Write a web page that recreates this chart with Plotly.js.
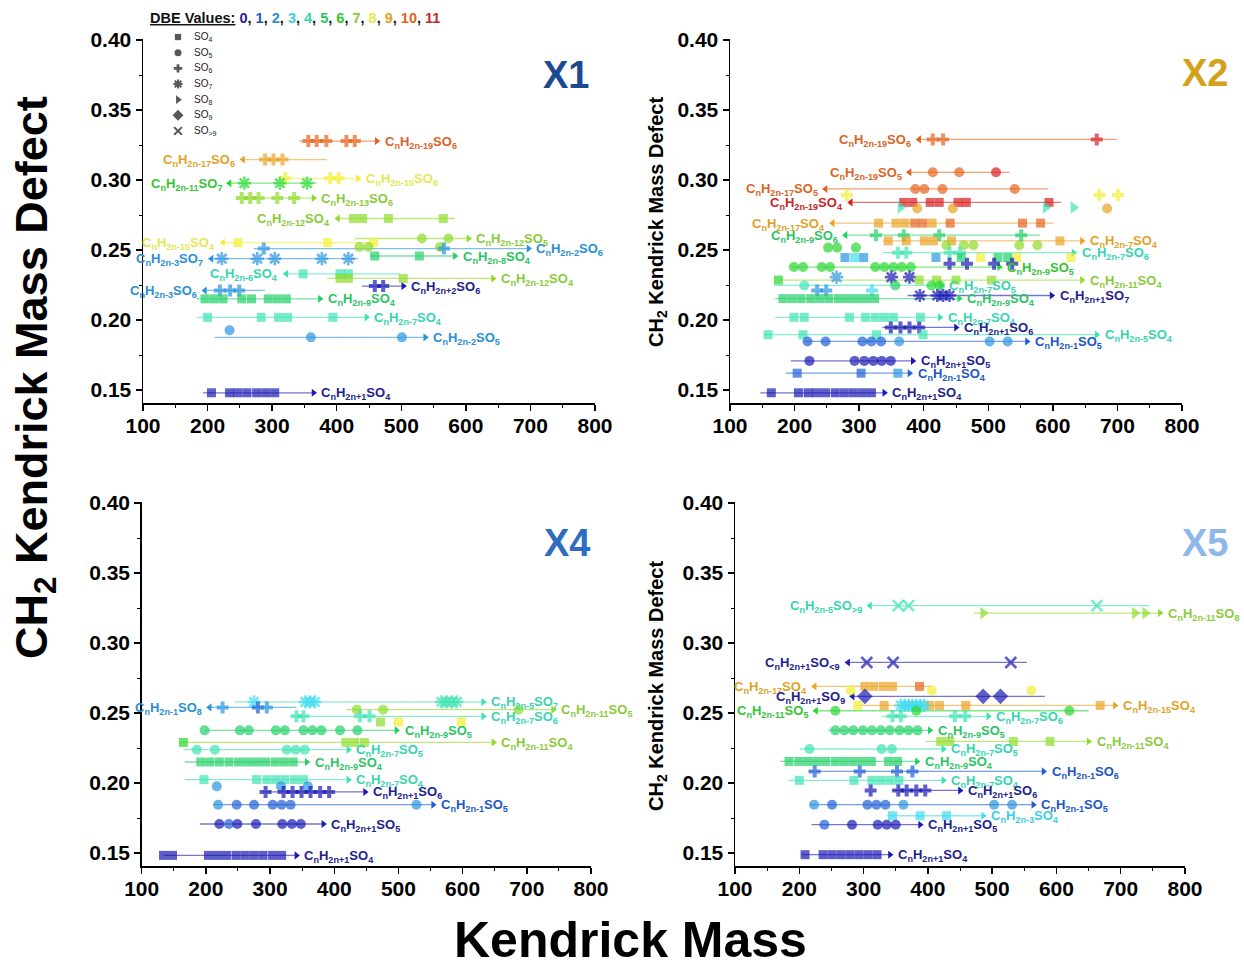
<!DOCTYPE html>
<html><head><meta charset="utf-8">
<script src="https://cdn.plot.ly/plotly-3.0.1.min.js"></script>
<style>body{margin:0;background:#fff}#chart{width:1244px;height:961px}</style>
</head><body><div id="chart"></div>
<script>
// ---------- palette / legend data ----------
const dbeValues = [0,1,2,3,4,5,6,7,8,9,10,11];
const dbeMarkerColors = ['#1a1ab4','#1f5fd8','#2a96e0','#3fdcf0','#3de2b4','#22d068','#28d830','#8edc2a','#f2f030','#eba224','#e6621e','#d81e1e'];
const dbeTextColors   = ['#22228c','#2057c4','#2a8fd6','#3ccfe4','#38d4b0','#2cc463','#35c435','#8acb3a','#e6e650','#e2a228','#dc6424','#c42828'];
const legendSymbolCodes = [4,5,6,7,8,9,10];
const legendSymbolLabels = ['SO<sub>4</sub>','SO<sub>5</sub>','SO<sub>6</sub>','SO<sub>7</sub>','SO<sub>8</sub>','SO<sub>9</sub>','SO<sub>&gt;9</sub>'];

// ---------- X1 ----------
const X1_h = ['2n-19','2n-17','2n-15','2n-11','2n-13','2n-12','2n-15','2n-12',null,'2n-2','2n-3','2n-8','2n-6','2n-12','2n-3','2n+2','2n-9','2n-7',null,'2n-2','2n+1'];
const X1_o = ['6','6','6','7','6','4','4','5',null,'6','7','4','4','4','6','6','4','4',null,'5','4'];
const X1_y = [0.3278,0.3146,0.3012,0.2977,0.2871,0.2725,0.2553,0.2582,0.2522,0.2510,0.2438,0.2457,0.2330,0.2297,0.2211,0.2242,0.2151,0.2019,0.1926,0.1876,0.1480];
const X1_from = [342,255,317,234,245,402,224,428,null,271,206,451,322,385,196,439,183,183,null,211,193];
const X1_to   = [462,385,433,369,364,583,457,604,null,697,433,583,498,642,289,503,374,446,null,537,364];
const X1_arrow = ['r','l','r','l','r','l','l','r',null,'r','l','r','l','r','l','r','r','r',null,'r','r'];
const X1_dbe = [10,9,8,6,7,7,8,7,7,2,2,5,4,7,2,0,5,4,2,2,0];
const X1_sym = [6,6,6,7,6,4,4,5,5,6,7,4,4,4,6,6,4,4,5,5,4];
const X1_mx = [[356,369,384,415,428],[289,302,316],[320,390,403],[257,312,354],[253,266,279,308,334],[426,440,480,565],[247,386,457],[532,573],[435,449,560],[287,566],[222,277,304,377,418],[459,528],[348,405,418],[405,418,503],[219,235,249],[459,472],[196,210,224,253,268,294,308,322],[200,283,310,324,394],[234],[360,501],[206,234,247,261,276,290,304]];
const X1_mdbe = [null,null,null,null,null,null,null,null,null,null,null,null,null,null,null,null,null,null,null,null,null];

// ---------- X2 ----------
const X2_h = ['2n-19','2n-19','2n-17',null,'2n-19',null,null,'2n-17','2n-9','2n-7',null,null,'2n-7',null,null,'2n-9',null,'2n-11','2n-7',null,'2n+1','2n-9','2n-7','2n+1','2n-5','2n-1','2n+1','2n-1','2n+1'];
const X2_o = ['6','5','5',null,'4',null,null,'4','6','4',null,null,'6',null,null,'5',null,'4','5',null,'7','4','4','6','4','5','5','4','4'];
const X2_y = [0.329,0.3055,0.2936,0.2893,0.284,0.2804,0.2797,0.2692,0.2606,0.2565,0.2517,0.2534,0.2481,0.2446,0.2401,0.2378,0.2306,0.2285,0.2247,0.221,0.2175,0.2153,0.2019,0.1947,0.1895,0.1847,0.1708,0.162,0.148];
const X2_from = [393,378,248,null,287,null,null,259,279,336,null,null,336,null,null,194,null,175,168,null,375,170,170,336,152,215,194,186,147];
const X2_to   = [699,533,593,null,613,null,null,601,580,645,null,null,632,null,null,517,null,645,427,null,598,455,425,450,668,560,383,378,339];
const X2_arrow = ['l','l','l',null,'l',null,null,'l','l','r',null,null,'r',null,null,'r',null,'r','r',null,'r','r','r','r','r','r','r','r','r'];
const X2_dbe = [10,10,10,8,11,4,9,9,5,9,6,7,4,2,0,6,2,7,4,2,0,5,4,0,4,1,0,1,0];
const X2_sym = [6,5,5,6,4,8,5,4,6,4,5,5,6,4,6,5,7,4,5,6,7,4,4,6,4,5,5,4,4];
const X2_mx = [[414,430,668],[414,455,512],[387,401,429,541],[281,672,701],[369,383,410,424,453,466,594],[364,589,632],[390,445,684],[330,357,371,386,399,413,441,553,581],[326,369,424,551],[345,373,401,415,443,611],[252,266,295],[435,462,477,548,576],[360,373,440,456],[278,293,307,419,458,515,530,488,544,628],[440,467,509,537],[199,213,242,255,325,339,353,366,380],[265,350,378],[175,393,420,450,505],[215,356,412,425],[235,249,320],[394,421,430,440],[182,196,210,225,239,253,268,282,296,310,324],[199,215,285,310,325,339,353,395],[349,364,378,393],[159,213,327,399],[220,248,305,319,334,362,502,530],[223,293,308,322,335,349],[204,303,360],[164,206,221,234,248,263,277,291,305,319]];
const X2_mdbe = [[10,10,11],[10,10,11],null,null,null,null,null,[9,9,9,10,10,9,10,10,10],null,null,null,null,null,[2,3,2,2,5,5,5,8,8,8],null,null,[2,0,0],[6,7,7,7,7],[4,5,6,6],[2,2,3],null,null,null,null,null,[1,1,1,1,1,2,2,2],null,[1,1,2],null];

// ---------- X4 ----------
const X4_h = ['2n-5','2n-1','2n-11','2n-7',null,'2n-9','2n-11','2n-7','2n-9','2n-7',null,'2n+1','2n-1','2n+1','2n+1'];
const X4_o = ['7','8','5','6',null,'5','4','5','4','4',null,'6','5','5','4'];
const X4_y = [0.2579,0.254,0.2524,0.2476,0.2436,0.2376,0.229,0.2238,0.215,0.2024,0.1976,0.1936,0.1845,0.1707,0.1483];
const X4_from = [245,206,419,334,null,197,162,165,167,167,null,287,212,191,134];
const X4_to   = [632,341,741,632,null,497,648,422,357,422,null,448,554,383,341];
const X4_arrow = ['r','l','r','r',null,'r','r','r','r','r',null,'r','r','r','r'];
const X4_dbe = [4,2,7,4,8,5,7,4,5,4,2,0,1,0,0];
const X4_sym = [7,6,5,6,4,5,4,5,4,4,5,6,5,5,4];
const X4_mx = [[275,355,362,370,567,575,583,591],[226,281,295],[435,476,687],[341,352,440,455],[472,500,598],[198,253,267,309,323,352,366,380,409,436],[165,418,432,447],[186,214,326,340,354],[192,206,221,236,251,265,279,293,308,322,336],[197,279,295,309,323,338,352],[217,317,359],[293,321,335,349,363,378,392],[219,248,275,304,318,332,528],[221,236,249,278,319,334,348],[134,148,204,218,232,247,261,275,289,304,318]];
const X4_mdbe = [[3,3,3,3,4,4,4,4],[2,1,2],null,null,[7,8,8],null,[6,7,7,7],null,null,null,null,null,[2,1,1,1,1,1,2],[0,1,0,0,0,0,0],null];

// ---------- X5 ----------
const X5_h = ['2n-5','2n-11','2n+1','2n-17',null,'2n+1','2n-15',null,'2n-11','2n-7','2n-9','2n-11','2n-7','2n-9','2n-1','2n-7','2n+1','2n-1','2n-3','2n+1','2n+1'];
const X5_o = ['&gt;9','8','&lt;9','4',null,'9','4',null,'5','6','5','4','5','4','6','4','6','5','4','5','4'];
const X5_y = [0.3267,0.3214,0.2861,0.269,0.2661,0.2619,0.2554,0.2554,0.2516,0.2476,0.2376,0.2297,0.2243,0.2154,0.2083,0.2019,0.1947,0.1845,0.1766,0.1702,0.1488];
const X5_from = [310,471,276,224,null,283,289,null,226,328,245,396,201,170,214,183,344,217,336,219,204];
const X5_to   = [744,761,554,406,null,582,691,null,650,494,403,650,424,383,580,424,450,564,486,388,341];
const X5_arrow = ['l','r','l','l',null,'l','r',null,'l','r','r','r','r','r','r','r','r','r','r','r','r'];
const X5_dbe = [4,7,0,9,8,0,9,3,6,4,5,7,4,5,1,4,0,1,3,0,0];
const X5_sym = [10,8,10,4,5,9,4,7,5,6,5,4,5,4,6,4,6,5,4,5,4];
const X5_mx = [[354,370,663],[486,722,738],[305,346,529],[302,316,331,345,387],[280,406,561],[302,486,513],[291,332,403,418,459,668],[358,364,370,376,382,388,394],[256,382,620],[345,358,442,458],[256,270,284,299,313,327,341,356,370,384],[420,434,533,590],[216,328,344],[184,199,213,227,241,256,270,284,298,312,339,353],[224,294,352,376],[200,285,313,327,341,355],[311,354,367,382,396],[223,251,306,320,334,362,503,531],[345,388,429],[239,282,322,336,350],[209,237,251,265,279,293,307,321]];
const X5_mdbe = [null,null,null,[9,9,9,9,10],null,null,[8,9,9,9,9,9],null,null,null,null,null,null,null,null,null,null,[2,1,1,1,1,2,2,2],null,[1,0,0,0,0],null];

// ---------- drawing ----------
const FONT = 'Liberation Sans, Arial, sans-serif';
const SYMBOLS = {4:'square',5:'circle',6:'cross',7:'asterisk-open',8:'triangle-right',9:'diamond',10:'x-thin-open'};
const SIZES = {4:9,5:10,6:10,7:11,8:11,9:12,10:11};
const OPEN = {7:true,10:true};

const traces = [];
const annotations = [];

function buildPanel(P, xn, yn) {
  const arX=[],arY=[],arS=[],arC=[];
  const mX=[],mY=[],mS=[],mC=[],mZ=[],mW=[];
  for (let i=0;i<P.y.length;i++) {
    const col = dbeMarkerColors[P.dbe[i]];
    if (P.from[i]!=null) {
      traces.push({type:'scatter',mode:'lines',x:[P.from[i],P.to[i]],y:[P.y[i],P.y[i]],xaxis:xn,yaxis:yn,
        line:{color:col,width:1.3},opacity:0.6,hoverinfo:'skip',cliponaxis:false});
      const right = P.arrow[i]==='r';
      arX.push(right?P.to[i]:P.from[i]); arY.push(P.y[i]);
      arS.push(right?'triangle-right':'triangle-left'); arC.push(col);
      if (P.h[i]) {
        annotations.push({xref:xn,yref:yn,x:right?P.to[i]:P.from[i],y:P.y[i],
          text:'C<sub>n</sub>H<sub>'+P.h[i]+'</sub>SO<sub>'+P.o[i]+'</sub>',
          showarrow:false,xanchor:right?'left':'right',yanchor:'middle',xshift:right?6:-6,yshift:-1,
          font:{family:FONT,size:13,weight:'bold',color:dbeTextColors[P.dbe[i]]}});
      }
    }
    P.mx[i].forEach((x,j)=>{
      const d = P.mdbe[i] ? P.mdbe[i][j] : P.dbe[i];
      mX.push(x); mY.push(P.y[i]); mS.push(SYMBOLS[P.sym[i]]);
      mC.push(dbeMarkerColors[d]); mZ.push(SIZES[P.sym[i]]); mW.push(OPEN[P.sym[i]]?2.6:0);
    });
  }
  traces.push({type:'scatter',mode:'markers',x:arX,y:arY,xaxis:xn,yaxis:yn,hoverinfo:'skip',cliponaxis:false,
    marker:{symbol:arS,color:arC,size:7,line:{width:0}}});
  traces.push({type:'scatter',mode:'markers',x:mX,y:mY,xaxis:xn,yaxis:yn,hoverinfo:'skip',cliponaxis:false,
    marker:{symbol:mS,color:mC,size:mZ,line:{width:mW,color:mC}}});
}

buildPanel({h:X1_h,o:X1_o,y:X1_y,from:X1_from,to:X1_to,arrow:X1_arrow,dbe:X1_dbe,sym:X1_sym,mx:X1_mx,mdbe:X1_mdbe},'x','y');
buildPanel({h:X2_h,o:X2_o,y:X2_y,from:X2_from,to:X2_to,arrow:X2_arrow,dbe:X2_dbe,sym:X2_sym,mx:X2_mx,mdbe:X2_mdbe},'x2','y2');
buildPanel({h:X4_h,o:X4_o,y:X4_y,from:X4_from,to:X4_to,arrow:X4_arrow,dbe:X4_dbe,sym:X4_sym,mx:X4_mx,mdbe:X4_mdbe},'x3','y3');
buildPanel({h:X5_h,o:X5_o,y:X5_y,from:X5_from,to:X5_to,arrow:X5_arrow,dbe:X5_dbe,sym:X5_sym,mx:X5_mx,mdbe:X5_mdbe},'x4','y4');

// symbol legend (helper axes x5/y5)
traces.push({type:'scatter',mode:'markers',x:legendSymbolCodes.map(()=>0.5),y:legendSymbolCodes.map((c,i)=>i),
  xaxis:'x5',yaxis:'y5',hoverinfo:'skip',cliponaxis:false,
  marker:{symbol:legendSymbolCodes.map(c=>SYMBOLS[c]),size:legendSymbolCodes.map(c=>SIZES[c]*0.7),color:'#111',
    line:{color:'#111',width:legendSymbolCodes.map(c=>OPEN[c]?2:0)}}});
legendSymbolLabels.forEach((t,i)=>annotations.push({xref:'x5',yref:'y5',x:1,y:i,text:t,showarrow:false,
  xanchor:'left',yanchor:'middle',xshift:6,font:{family:FONT,size:10,color:'#222'}}));

// DBE header
annotations.push({xref:'paper',yref:'paper',x:148/1244,y:1-18/961,xanchor:'left',yanchor:'middle',showarrow:false,
  text:'<u>DBE Values:</u> '+dbeValues.map(v=>'<span style="color:'+dbeTextColors[v]+'">'+v+'</span>').join(', '),
  font:{family:FONT,size:14.5,weight:'bold',color:'#111'}});

// titles and panel tags
const panelTags = ['X1','X2','X4','X5'];
const panelTagColors = ['#1c4a90','#d4a21a','#2e6cc4','#8fb8ea'];
const tagPos = [[566,75],[1205,73],[567,543],[1205,543]];
panelTags.forEach((t,i)=>annotations.push({xref:'paper',yref:'paper',x:tagPos[i][0]/1244,y:1-tagPos[i][1]/961,
  text:t,showarrow:false,xanchor:'center',yanchor:'middle',font:{family:FONT,size:38,weight:'bold',color:panelTagColors[i]}}));
annotations.push({xref:'paper',yref:'paper',x:35/1244,y:1-378/961,text:'CH<sub>2</sub> Kendrick Mass Defect',textangle:-90,
  showarrow:false,xanchor:'center',yanchor:'middle',font:{family:FONT,size:45,weight:'bold',color:'#000'}});
annotations.push({xref:'paper',yref:'paper',x:630/1244,y:1-940/961,text:'Kendrick Mass',
  showarrow:false,xanchor:'center',yanchor:'middle',font:{family:FONT,size:50,weight:'bold',color:'#000'}});
[222,686].forEach(py=>annotations.push({xref:'paper',yref:'paper',x:657/1244,y:1-py/961,text:'CH<sub>2</sub> Kendrick Mass Defect',
  textangle:-90,showarrow:false,xanchor:'center',yanchor:'middle',font:{family:FONT,size:20,weight:'bold',color:'#000'}}));

function xAxis(d0,d1,anchor){return {domain:[d0/1244,d1/1244],anchor:anchor,range:[100,800],tick0:100,dtick:100,
  ticks:'outside',ticklen:6,tickwidth:1.5,tickcolor:'#000',showline:true,linewidth:1.5,linecolor:'#000',
  showgrid:false,zeroline:false,ticklabelstandoff:-3,tickfont:{family:FONT,size:21,weight:'bold',color:'#000'},
  minor:{ticks:'outside',ticklen:3,tickwidth:1,tickcolor:'#000',dtick:50,tick0:100,showgrid:false}};}
function yAxis(top,bottom,anchor){return {domain:[(961-bottom)/961,(961-top)/961],anchor:anchor,range:[0.1405,0.401],
  tick0:0.15,dtick:0.05,tickformat:'.2f',ticks:'outside',ticklen:6,tickwidth:1.5,tickcolor:'#000',showline:true,
  linewidth:1.5,linecolor:'#000',showgrid:false,zeroline:false,tickfont:{family:FONT,size:21,weight:'bold',color:'#000'},
  minor:{ticks:'outside',ticklen:3,tickwidth:1,tickcolor:'#000',dtick:0.025,tick0:0.15,showgrid:false}};}

const layout = {
  width:1244,height:961,margin:{l:0,r:0,t:0,b:0},paper_bgcolor:'#fff',plot_bgcolor:'rgba(0,0,0,0)',showlegend:false,
  xaxis:xAxis(143,595,'y'), yaxis:yAxis(38.6,403.3,'x'),
  xaxis2:xAxis(730,1182,'y2'), yaxis2:yAxis(38.6,403.3,'x2'),
  xaxis3:xAxis(141.7,591,'y3'), yaxis3:yAxis(501.6,866.3,'x3'),
  xaxis4:xAxis(735,1185,'y4'), yaxis4:yAxis(501.6,866.3,'x4'),
  xaxis5:{domain:[170/1244,186/1244],anchor:'y5',range:[0,1],visible:false,fixedrange:true},
  yaxis5:{domain:[(961-138.8)/961,(961-29.2)/961],anchor:'x5',range:[6.5,-0.5],visible:false,fixedrange:true},
  annotations:annotations
};
Plotly.newPlot('chart',traces,layout,{displayModeBar:false,staticPlot:true});
</script></body></html>
